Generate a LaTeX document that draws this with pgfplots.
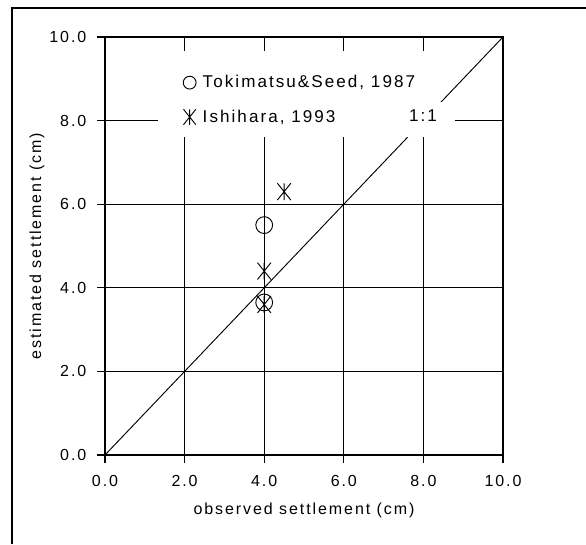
\documentclass[border=0pt]{standalone}
\usepackage{fontspec}
\setmainfont{Liberation Sans}[LetterSpace=12]
\usepackage{pgfplots}
\pgfplotsset{compat=1.18}
\pgfdeclareplotmark{xast}{%
  \pgfpathmoveto{\pgfqpoint{0pt}{\pgfplotmarksize}}%
  \pgfpathlineto{\pgfqpoint{0pt}{-\pgfplotmarksize}}%
  \pgfpathmoveto{\pgfqpoint{-0.8\pgfplotmarksize}{-\pgfplotmarksize}}%
  \pgfpathlineto{\pgfqpoint{0.8\pgfplotmarksize}{\pgfplotmarksize}}%
  \pgfpathmoveto{\pgfqpoint{-0.8\pgfplotmarksize}{\pgfplotmarksize}}%
  \pgfpathlineto{\pgfqpoint{0.8\pgfplotmarksize}{-\pgfplotmarksize}}%
  \pgfusepathqstroke}
\begin{document}
\begin{tikzpicture}
\useasboundingbox (0,0) rectangle (439.5pt,408pt);
\draw[line width=1.2pt] (9pt,0pt) -- (9pt,402pt) -- (439.5pt,402pt);
\begin{axis}[
  at={(78.75pt,66.75pt)}, anchor=south west,
  scale only axis, width=298.5pt, height=313.5pt,
  xmin=0, xmax=10, ymin=0, ymax=10,
  xtick={0,2,4,6,8,10}, ytick={0,2,4,6,8,10},
  grid=major, grid style={black, line width=0.6pt},
  axis line style={black, line width=1pt},
  tick align=outside, tick pos=left,
  major tick length=6pt,
  tick style={black, line width=0.8pt},
  /pgf/number format/.cd, fixed, fixed zerofill, precision=1, assume math mode=true,
  /pgfplots/.cd,
  ticklabel style={font=\fontsize{12}{14}\selectfont},
  xticklabel style={yshift=-5.5pt},
  yticklabel style={xshift=-4.5pt},
  label style={font=\fontsize{12}{14}\selectfont},
  xlabel={observed settlement (cm)},
  ylabel={estimated settlement (cm)},
  xlabel style={at={(axis description cs:0.5,-0.133)}, anchor=center},
  ylabel style={at={(axis description cs:-0.171,0.5)}, anchor=center},
  legend style={at={(rel axis cs:0.196,0.915)}, anchor=north west, draw=none, fill=none,
    font=\fontsize{12.8}{15}\selectfont, row sep=11pt, column sep=3pt, inner sep=0pt,
    nodes={inner sep=2pt}},
  legend cell align=left,
  legend image code/.code={\draw[#1] plot coordinates {(0pt,0pt)};},
]
\addplot[black, line width=0.7pt, forget plot] coordinates {(0,0) (10,10)};
\fill[white] (rel axis cs:0.133,0.761) rectangle (rel axis cs:0.837,0.967);
\fill[white] (rel axis cs:0.741,0.761) rectangle (rel axis cs:0.879,0.845);
\node[font=\fontsize{12.8}{15}\selectfont] at (axis cs:7.99,8.13) {1:1};
\addplot[only marks, mark=o, mark size=6.3pt, black, line width=0.7pt,
  legend image post style={mark size=4.8pt}]
  coordinates {(4,5.5) (4,3.65)};
\addlegendentry{Tokimatsu\&Seed, 1987}
\addplot[only marks, mark=xast, mark size=6.3pt, black, line width=0.7pt,
  legend image post style={mark size=5.8pt}]
  coordinates {(4.5,6.3) (4,4.4) (4,3.6)};
\addlegendentry{Ishihara, 1993}
\end{axis}
\end{tikzpicture}
\end{document}
